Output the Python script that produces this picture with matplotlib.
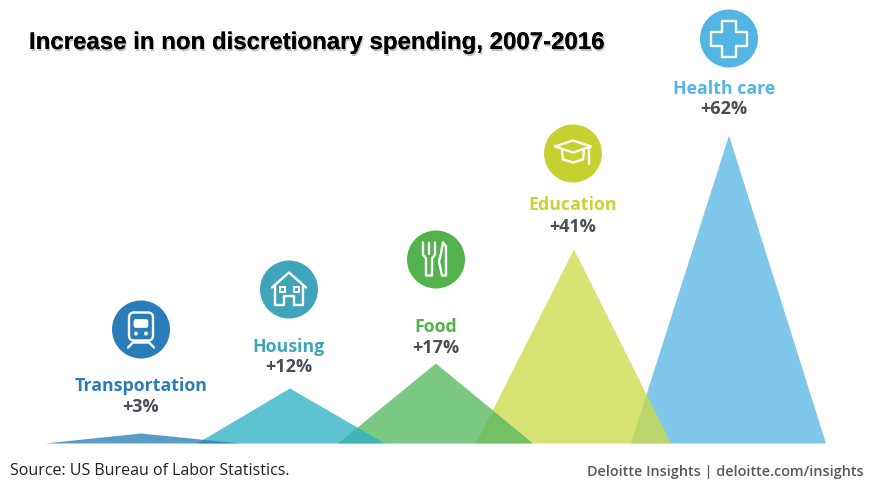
import matplotlib
matplotlib.use("Agg")
from matplotlib import pyplot as plt
from matplotlib import patches as mpatches
import matplotlib.patheffects as pe

categories = ["Transportation", "Housing", "Food", "Education", "Health care"]
increase_labels = ["+3%", "+12%", "+17%", "+41%", "+62%"]
# triangle geometry, in pixels
base_left = [45, 197, 338, 476, 631]
base_right = [240, 385, 533, 671, 826]
peak_x = [141, 290, 436, 574, 729]
peak_height = [10, 55, 80, 194, 308]
colors = ["#2a7fb8", "#2fb2c4", "#56b960", "#cbdb4a", "#5bb8e6"]
icon_colors = ["#2a7db8", "#40a4ba", "#54b24c", "#c5d12f", "#52b5e3"]
label_colors = ["#2a7db8", "#40a4ba", "#54b24c", "#c9d335", "#52b5e3"]

baseline = 443
fig = plt.figure(figsize=(8.76, 4.89), dpi=100)
ax = fig.add_axes([0, 0, 1, 1])
ax.set_xlim(0, 876)
ax.set_ylim(487.5, -1.5)
ax.axis("off")

# leftmost triangle sits on top, the overlaps show that
for i in range(5):
    ax.fill([base_left[i], peak_x[i], base_right[i]],
            [baseline, baseline - peak_height[i], baseline],
            color=colors[i], alpha=0.78, lw=0, zorder=8 - i)


def line(cx, cy, xs, ys):
    ax.plot([cx + x for x in xs], [cy + y for y in ys], color="white", lw=1.7,
            solid_capstyle="round", solid_joinstyle="round", zorder=11)


def train(cx, cy):
    ax.add_patch(mpatches.FancyBboxPatch((cx - 12, cy - 17), 24, 28, boxstyle="round,pad=0,rounding_size=5",
                                         fc="none", ec="white", lw=1.7, zorder=11))
    ax.add_patch(mpatches.FancyBboxPatch((cx - 7, cy - 10), 14, 8, boxstyle="round,pad=0,rounding_size=2",
                                         fc="white", ec="white", lw=0.5, zorder=11))
    for dx in [-5, 5]:
        ax.add_patch(mpatches.Circle((cx + dx, cy + 4), 2, fc="white", lw=0, zorder=11))
    line(cx, cy, [-13, -8, 8, 13], [18, 13, 13, 18])


def house(cx, cy):
    line(cx, cy, [-17, 0, 17], [-2, -17, -2])
    line(cx, cy, [-14, -14, -5, -5, 5, 5, 14, 14], [-4, 15, 15, 6, 6, 15, 15, -4])
    for dx in [-7, 7]:
        ax.add_patch(mpatches.Rectangle((cx + dx - 2.5, cy - 3), 5, 5, fc="none", ec="white", lw=1.4, zorder=11))


def cutlery(cx, cy):
    line(cx, cy, [-13, -13, -10, -10, -4, -4, -1, -1], [-17, -5, -1, 16, 16, -1, -5, -17])
    line(cx, cy, [-7, -7], [-17, -6])
    line(cx, cy, [7, 10, 10, 6, 3, 5, 7], [-17, -13, 16, 16, 2, -6, -17])


def cap(cx, cy):
    line(cx, cy, [-18, 0, 18, 0, -18], [-7, -13, -7, -1, -7])
    line(cx, cy, [-11, -10, 0, 10, 11], [-3, 6, 9, 6, -3])
    line(cx, cy, [16, 16], [-6, 10])


def cross(cx, cy):
    a, b = 7, 18
    line(cx, cy, [-a, a, a, b, b, a, a, -a, -a, -b, -b, -a, -a],
         [-b, -b, -a, -a, a, a, b, b, a, a, -a, -a, -b])


icon_x = [141, 289, 436, 573, 729]
icon_y = [329, 289, 259, 153, 38]
icon_draw = [train, house, cutlery, cap, cross]
label_x = [141, 289, 436, 573, 724]
label_y = [385, 346, 326, 204, 88]
value_y = [406, 366, 347, 226, 108]

for i in range(5):
    ax.add_patch(mpatches.Circle((icon_x[i], icon_y[i]), 29, fc=icon_colors[i], lw=0, zorder=10))
    icon_draw[i](icon_x[i], icon_y[i])
    ax.text(label_x[i], label_y[i], categories[i], family="Open Sans", weight="bold", fontsize=12.8,
            color=label_colors[i], ha="center", va="center", zorder=12)
    ax.text(label_x[i], value_y[i], increase_labels[i], family="Open Sans", weight="bold", fontsize=13,
            color="#4a4d55", ha="center", va="center", zorder=12)

ax.text(29, 42, "Increase in non discretionary spending, 2007-2016", family="Liberation Sans", weight="bold",
        fontsize=17.3, color="black", ha="left", va="center", zorder=12,
        path_effects=[pe.withSimplePatchShadow(offset=(0.8, -1.5), shadow_rgbFace="#999999", alpha=0.6), pe.Normal()])
ax.text(10, 470, "Source: US Bureau of Labor Statistics.", family="Open Sans", fontsize=11.5,
        color="#222222", ha="left", va="center")
ax.text(864, 471, "Deloitte Insights | deloitte.com/insights", family="Open Sans", weight="semibold", fontsize=10.4,
        color="#55585c", ha="right", va="center")

fig.savefig("out.png", dpi=100)
